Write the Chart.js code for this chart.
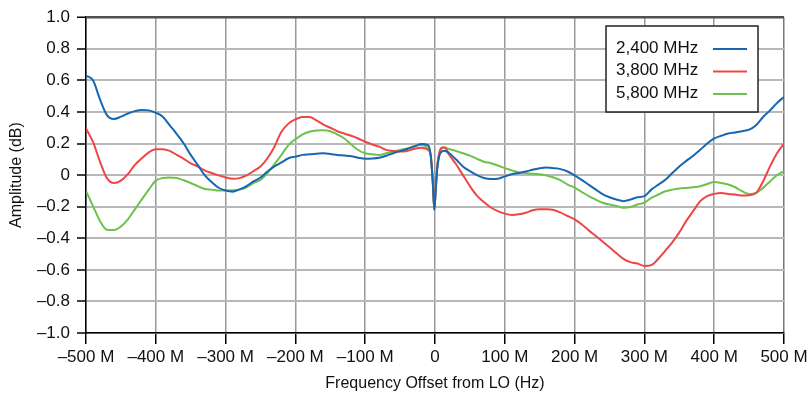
<!DOCTYPE html>
<html>
<head>
<meta charset="utf-8">
<script src="https://cdn.jsdelivr.net/npm/chart.js@4.4.1/dist/chart.umd.min.js"></script>
<style>
    body { margin: 0; background: #fff; }
    #chartBox { width: 812px; height: 395px; }
</style>
</head>
<body>
<div id="chartBox"><canvas id="responseChart" width="812" height="395"></canvas></div>
<script>
// Frequency offsets (MHz) where the curves were sampled
const freqs = [
    -500, -490, -480, -470, -460, -450, -440, -430, -420, -410,
    -400, -390, -380, -370, -360, -350, -340, -330, -320, -310,
    -300, -290, -280, -270, -260, -250, -240, -230, -220, -210,
    -200, -190, -180, -170, -160, -150, -140, -130, -120, -110,
    -100, -90, -80, -70, -60, -50, -40, -30, -20, -10,
    -6, -3, -1, 1, 3, 6, 10, 14,
    20, 30, 40, 50, 60, 70, 80, 90, 100,
    110, 120, 130, 140, 150, 160, 170, 180, 190, 200,
    210, 220, 230, 240, 250, 260, 270, 280, 290, 300,
    310, 320, 330, 340, 350, 360, 370, 380, 390, 400,
    410, 420, 430, 440, 450, 460, 470, 480, 490, 500
];

// Amplitude (dB) for each LO frequency
const amp2400 = [
    0.63, 0.60, 0.48, 0.38, 0.355, 0.37, 0.39, 0.405, 0.413, 0.41,
    0.395, 0.37, 0.315, 0.26, 0.20, 0.128, 0.065, 0.0, -0.044, -0.08,
    -0.098, -0.105, -0.09, -0.07, -0.04, -0.015, 0.023, 0.055, 0.08, 0.107,
    0.117, 0.128, 0.132, 0.135, 0.138, 0.134, 0.128, 0.124, 0.12, 0.11,
    0.103, 0.105, 0.11, 0.123, 0.138, 0.152, 0.165, 0.18, 0.197, 0.19,
    0.12, -0.06, -0.22, -0.10, 0.03, 0.12, 0.15, 0.155,
    0.14, 0.10, 0.055, 0.025, 0.0, -0.018, -0.025, -0.023, -0.008,
    0.006, 0.013, 0.023, 0.034, 0.044, 0.048, 0.044, 0.038, 0.023, -0.002,
    -0.03, -0.06, -0.09, -0.12, -0.14, -0.155, -0.165, -0.155, -0.14, -0.133,
    -0.092, -0.06, -0.03, 0.013, 0.055, 0.09, 0.123, 0.16, 0.2, 0.232,
    0.249, 0.263, 0.27, 0.278, 0.288, 0.316, 0.368, 0.41, 0.457, 0.495
];
const amp3800 = [
    0.295, 0.21, 0.086, -0.019, -0.05, -0.035, 0.006, 0.065, 0.107, 0.144,
    0.163, 0.163, 0.153, 0.128, 0.103, 0.075, 0.055, 0.03, 0.013, -0.002,
    -0.015, -0.023, -0.019, -0.002, 0.025, 0.055, 0.107, 0.18, 0.274, 0.326,
    0.353, 0.368, 0.368, 0.347, 0.32, 0.30, 0.278, 0.263, 0.249, 0.232,
    0.211, 0.194, 0.18, 0.16, 0.153, 0.149, 0.153, 0.165, 0.174, 0.16,
    0.12, -0.05, -0.22, -0.09, 0.05, 0.14, 0.175, 0.175,
    0.13, 0.07, 0.0, -0.07, -0.13, -0.17, -0.205, -0.228, -0.244,
    -0.252, -0.248, -0.238, -0.223, -0.217, -0.217, -0.221, -0.238, -0.259, -0.28,
    -0.311, -0.349, -0.384, -0.42, -0.457, -0.495, -0.53, -0.551, -0.56, -0.575,
    -0.57, -0.53, -0.478, -0.426, -0.363, -0.29, -0.227, -0.165, -0.133, -0.119,
    -0.113, -0.119, -0.123, -0.129, -0.127, -0.113, -0.04, 0.055, 0.138, 0.2
];
const amp5800 = [
    -0.10, -0.196, -0.29, -0.346, -0.348, -0.326, -0.28, -0.217, -0.154, -0.092,
    -0.035, -0.019, -0.015, -0.019, -0.033, -0.05, -0.07, -0.088, -0.092, -0.098,
    -0.098, -0.096, -0.092, -0.077, -0.05, -0.03, 0.013, 0.069, 0.128, 0.19,
    0.228, 0.257, 0.274, 0.282, 0.284, 0.278, 0.257, 0.232, 0.194, 0.159,
    0.138, 0.132, 0.128, 0.138, 0.149, 0.159, 0.169, 0.184, 0.19, 0.17,
    0.12, -0.06, -0.22, -0.09, 0.04, 0.13, 0.17, 0.175,
    0.165, 0.153, 0.138, 0.123, 0.103, 0.085, 0.075, 0.061, 0.044,
    0.03, 0.017, 0.013, 0.008, 0.006, -0.002, -0.015, -0.033, -0.06, -0.08,
    -0.106, -0.133, -0.155, -0.175, -0.186, -0.196, -0.207, -0.202, -0.186, -0.175,
    -0.144, -0.123, -0.102, -0.092, -0.085, -0.081, -0.077, -0.071, -0.056, -0.044,
    -0.05, -0.06, -0.077, -0.102, -0.119, -0.113, -0.081, -0.04, 0.0, 0.025
];

const seriesNames = ['2,400 MHz', '3,800 MHz', '5,800 MHz'];

// Tick labels as printed on the axes
const xTickLabels = ['\u2013500 M', '\u2013400 M', '\u2013300 M', '\u2013200 M', '\u2013100 M', '0',
    '100 M', '200 M', '300 M', '400 M', '500 M'];
const yTickLabels = ['\u20131.0', '\u20130.8', '\u20130.6', '\u20130.4', '\u20130.2', '0',
    '0.2', '0.4', '0.6', '0.8', '1.0'];

const FONT = "'Liberation Sans', Arial, Helvetica, sans-serif";

function toPoints(values) {
    return freqs.map(function (f, i) { return { x: f, y: values[i] }; });
}

// Boxed legend with the text first and the line sample after it
const boxLegend = {
    id: 'boxLegend',
    afterDraw: function (chart) {
        const ctx = chart.ctx;
        const left = 606, top = 26, w = 152, h = 86;
        ctx.save();
        ctx.fillStyle = '#fff';
        ctx.fillRect(left, top, w, h);
        ctx.strokeStyle = '#222';
        ctx.lineWidth = 1.5;
        ctx.strokeRect(left, top, w, h);
        ctx.font = '17px ' + FONT;
        ctx.textBaseline = 'middle';
        ctx.textAlign = 'left';
        chart.data.datasets.forEach(function (ds, i) {
            const y = 48 + i * 22.5;
            ctx.fillStyle = '#111';
            ctx.fillText(ds.label, 616, y);
            ctx.strokeStyle = ds.borderColor;
            ctx.lineWidth = 2;
            ctx.beginPath();
            ctx.moveTo(713, y + 1);
            ctx.lineTo(747, y + 1);
            ctx.stroke();
        });
        ctx.restore();
    }
};

const ctx = document.getElementById('responseChart').getContext('2d');

new Chart(ctx, {
    type: 'line',
    data: {
        datasets: [
            { label: seriesNames[0], data: toPoints(amp2400), borderColor: '#1767b0' },
            { label: seriesNames[1], data: toPoints(amp3800), borderColor: '#ee4646' },
            { label: seriesNames[2], data: toPoints(amp5800), borderColor: '#6cc24a' }
        ]
    },
    options: {
        responsive: false,
        animation: false,
        devicePixelRatio: 1,
        layout: { padding: { top: 14, right: 28, left: 0, bottom: 0 } },
        elements: {
            point: { radius: 0 },
            line: { borderWidth: 2, cubicInterpolationMode: 'monotone' }
        },
        plugins: {
            legend: { display: false },
            tooltip: { enabled: false }
        },
        scales: {
            x: {
                type: 'linear',
                min: -500,
                max: 500,
                afterFit: function (scale) { scale.height = 62; },
                ticks: {
                    stepSize: 100,
                    padding: 3,
                    color: '#111',
                    font: { family: FONT, size: 17 },
                    maxRotation: 0,
                    callback: function (value, index) { return xTickLabels[index]; }
                },
                grid: {
                    color: function (c) { return c.tick && c.tick.value === 500 ? '#777' : '#9a9a9a'; },
                    lineWidth: 1.5,
                    tickColor: '#000',
                    tickLength: 11,
                    tickWidth: 1.5
                },
                border: { color: '#000', width: 1.5 },
                title: {
                    display: true,
                    text: 'Frequency Offset from LO (Hz)',
                    color: '#111',
                    font: { family: FONT, size: 16 },
                    padding: { top: 0, bottom: 2 }
                }
            },
            y: {
                min: -1,
                max: 1,
                afterFit: function (scale) { scale.width = 86; },
                ticks: {
                    stepSize: 0.2,
                    padding: 7,
                    color: '#111',
                    font: { family: FONT, size: 17 },
                    callback: function (value, index) { return yTickLabels[index]; }
                },
                grid: {
                    color: function (c) { return c.tick && Math.abs(c.tick.value - 1) < 1e-6 ? '#505050' : '#b8b8b8'; },
                    lineWidth: function (c) { return c.tick && Math.abs(c.tick.value - 1) < 1e-6 ? 2.5 : 2; },
                    tickColor: '#000',
                    tickLength: 9,
                    tickWidth: 1.5
                },
                border: { color: '#000', width: 1.5 },
                title: {
                    display: true,
                    text: 'Amplitude (dB)',
                    color: '#111',
                    font: { family: FONT, size: 16 },
                    padding: { top: 7, bottom: 0 }
                }
            }
        }
    },
    plugins: [boxLegend]
});
</script>
</body>
</html>
